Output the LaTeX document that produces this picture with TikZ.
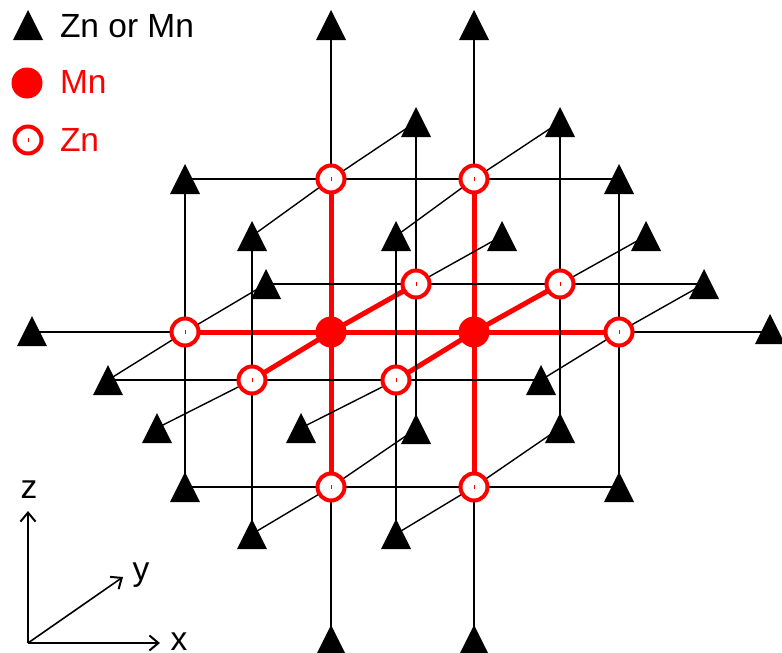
\documentclass[tikz,border=0pt]{standalone}
\usepackage{fontspec}
\setmainfont{Liberation Sans}
\usetikzlibrary{arrows.meta,backgrounds}
\definecolor{rd}{RGB}{255,0,0}
\tikzset{
 tri/.style={draw=none,inner sep=0pt,outer sep=0pt,rectangle,minimum width=30pt,minimum height=30pt,
   path picture={\fill[black] (path picture bounding box.north) -- (path picture bounding box.south west) -- (path picture bounding box.south east) -- cycle;}},
 mn/.style={circle,fill=rd,inner sep=0pt,outer sep=0pt,minimum size=31pt},
 zn/.style={circle,draw=rd,line width=4pt,fill=white,inner sep=0pt,outer sep=0pt,minimum size=27pt,
   path picture={\fill[rd] ([shift={(-0.5pt,-2pt)}]path picture bounding box.center) rectangle +(1pt,4pt);}},
 txt/.style={inner sep=0pt,outer sep=0pt,anchor=base west,font=\fontsize{33.5}{36}\selectfont},
 blk/.style={line width=1.4pt,black},
 redline/.style={line width=5pt,rd},
 axis/.style={line width=1.6pt,black,-{Straight Barb[length=9pt,width=15pt,line width=2pt]}}
}
\begin{document}
\begin{tikzpicture}[x=1pt,y=-1pt]
\useasboundingbox (0,0) rectangle (782,653);
\clip (0,0) rectangle (782,653);
% legend
\node[tri] (lt) at (28,25) {};
\node[mn] (lm) at (27,83) {};
\node[zn] (lz) at (28,140) {};
\node[txt] (lt1) at (60,37) {Zn or Mn};
\node[txt,text=rd] (lm1) at (60,93) {Mn};
\node[txt,text=rd] (lz1) at (60,151) {Zn};
% triangles
\foreach \n/\x/\y in {a1/331/25,a2/474/25,b1/416/122,b2/560/122,c1/185/179,c2/619/179,
 d1/252/236,d2/396/236,d3/502/236,d4/646/236,e1/266/284,e2/704/284,f1/32/331,f2/770/329,
 g1/108/380,g2/541/380,h1/157/428,h2/301/428,h3/416/429,h4/560/428,
 i1/185/487,i2/619/487,j1/252/534,j2/396/534,k1/331/640,k2/474/640}
 {\node[tri] (\n) at (\x,\y) {};}
% zinc sites
\foreach \n/\x/\y in {p1/331/179,p2/474/179,q1/416/284,q2/560/284,r1/185/332,r2/619/332,
 s1/252/380,s2/396/380,u1/331/487,u2/474/487}
 {\node[zn] (\n) at (\x,\y) {};}
\node[mn] (m1) at (331,332) {};
\node[mn] (m2) at (474,332) {};
% axes
\coordinate (o) at (28,643);
\coordinate (ax) at (160,643);
\coordinate (ay) at (123,577);
\coordinate (az) at (28,511);
\draw[axis] (o) -- (ax);
\draw[axis] (o) -- (ay);
\draw[axis] (o) -- (az);
\node[txt,anchor=base] (lx) at (179,650.5) {x};
\node[txt,anchor=base] (ly) at (141,580) {y};
\node[txt,anchor=base] (lzz) at (29,498) {z};
\begin{scope}[on background layer]
 \foreach \a/\b in {p1/m1,m1/u1,p2/m2,m2/u2,r1/m1,m1/m2,m2/r2,s1/m1,m1/q1,s2/m2,m2/q2}
  {\draw[redline] (\a.center) -- (\b.center);}
 \foreach \a/\b in {a1/p1,u1/k1,a2/p2,u2/k2,b1/q1,q1/h3,b2/q2,q2/h4,c1/r1,r1/i1,c2/r2,r2/i2,d1/s1,s1/j1,d2/s2,s2/j2,
   c1/p1,p1/p2,p2/c2,e1/q1,q1/q2,q2/e2,g1/s1,s1/s2,s2/g2,i1/u1,u1/u2,u2/i2,
   d1/p1,p1/b1,d2/p2,p2/b2,g1/r1,r1/e1,g2/r2,r2/e2,j1/u1,u1/h3,j2/u2,u2/h4,h1/s1,h2/s2,q1/d3,q2/d4}
  {\draw[blk] (\a.center) -- (\b.center);}
 \draw[blk] (f1.center |- r1.center) -- (r1.center);
 \draw[blk] (r2.center) -- (f2.center |- r2.center);
\end{scope}
\end{tikzpicture}
\end{document}
